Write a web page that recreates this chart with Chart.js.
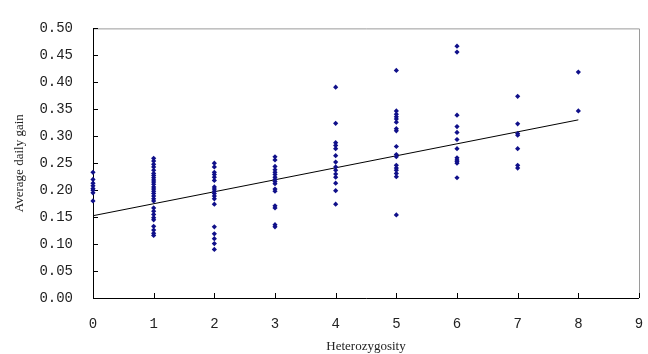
<!DOCTYPE html>
<html lang="en">
  <head>
    <meta charset="UTF-8" />
    <title>Average daily gain vs Heterozygosity</title>
    <script src="https://cdn.jsdelivr.net/npm/chart.js@4.4.0/dist/chart.umd.min.js"></script>
    <style>
      html, body { margin: 0; padding: 0; background: #fff; }
      #wrap { width: 648px; height: 354px; }
    </style>
  </head>
  <body>
    <div id="wrap"><canvas id="myChart" width="648" height="354"></canvas></div>
    <script>
      // average daily gain, one array per heterozygosity level
      const gainAt0 = [0.233, 0.220, 0.213, 0.208, 0.203, 0.200, 0.195, 0.180];
      const gainAt1 = [0.259, 0.254, 0.248, 0.243, 0.237, 0.231, 0.227, 0.223, 0.219, 0.215,
        0.211, 0.206, 0.202, 0.198, 0.194, 0.189, 0.184, 0.180, 0.167, 0.161, 0.155, 0.149,
        0.145, 0.133, 0.126, 0.120, 0.116];
      const gainAt2 = [0.250, 0.243, 0.233, 0.229, 0.224, 0.218, 0.206, 0.202, 0.198, 0.194,
        0.189, 0.184, 0.174, 0.132, 0.119, 0.110, 0.101, 0.090];
      const gainAt3 = [0.262, 0.256, 0.244, 0.238, 0.233, 0.229, 0.224, 0.220, 0.216, 0.212,
        0.202, 0.198, 0.171, 0.167, 0.136, 0.132];
      const gainAt4 = [0.391, 0.324, 0.288, 0.283, 0.277, 0.264, 0.252, 0.243, 0.237, 0.230,
        0.224, 0.213, 0.199, 0.174];
      const gainAt5 = [0.422, 0.347, 0.341, 0.336, 0.332, 0.326, 0.314, 0.310, 0.281, 0.266,
        0.262, 0.246, 0.241, 0.237, 0.231, 0.225, 0.154];
      const gainAt6 = [0.467, 0.456, 0.339, 0.318, 0.307, 0.294, 0.277, 0.260, 0.256, 0.253,
        0.250, 0.223];
      const gainAt7 = [0.374, 0.323, 0.305, 0.302, 0.277, 0.246, 0.241];
      const gainAt8 = [0.419, 0.347];
      const allGains = [gainAt0, gainAt1, gainAt2, gainAt3, gainAt4, gainAt5, gainAt6, gainAt7, gainAt8];

      // fitted trend line end points
      const fitX = [0, 8];
      const fitY = [0.1526, 0.3304];

      const xTicks = [0, 1, 2, 3, 4, 5, 6, 7, 8, 9];
      const yTicks = [0, 0.05, 0.1, 0.15, 0.2, 0.25, 0.3, 0.35, 0.4, 0.45, 0.5];

      let points = [];
      allGains.forEach((list, het) => {
        list.forEach((g) => points.push({ x: het, y: g }));
      });

      let line = fitX.map((x, i) => ({ x: x, y: fitY[i] }));

      // frame of the plot area and the inward tick marks, like the original
      const framePlugin = {
        id: "frame",
        beforeDatasetsDraw(chart) {
          const { ctx, chartArea: a, scales } = chart;
          ctx.save();
          ctx.lineWidth = 1;
          ctx.strokeStyle = "#9a9a9a";
          ctx.beginPath();
          ctx.moveTo(a.left, a.top + 0.5);
          ctx.lineTo(a.right + 0.5, a.top + 0.5);
          ctx.lineTo(a.right + 0.5, a.bottom);
          ctx.stroke();

          ctx.strokeStyle = "#000";
          ctx.beginPath();
          ctx.moveTo(a.left + 0.5, a.top);
          ctx.lineTo(a.left + 0.5, a.bottom + 0.5);
          ctx.lineTo(a.right, a.bottom + 0.5);
          ctx.stroke();

          ctx.beginPath();
          xTicks.forEach((t) => {
            let px = Math.round(scales.x.getPixelForValue(t)) + 0.5;
            ctx.moveTo(px, a.bottom);
            ctx.lineTo(px, a.bottom - 5);
          });
          yTicks.forEach((t) => {
            let py = Math.round(scales.y.getPixelForValue(t)) + 0.5;
            ctx.moveTo(a.left, py);
            ctx.lineTo(a.left + 5, py);
          });
          ctx.stroke();
          ctx.restore();
        },
      };

      const tickFont = { family: "Liberation Mono", size: 14 };
      const titleFont = { family: "Liberation Serif", size: 13 };

      var chart = new Chart("myChart", {
        type: "scatter",
        data: {
          datasets: [
            {
              label: "gain",
              data: points,
              clip: false,
              pointStyle: "rectRot",
              pointRadius: 2.6,
              backgroundColor: "#10108a",
              borderColor: "#10108a",
              borderWidth: 0,
            },
            {
              label: "fit",
              type: "line",
              data: line,
              showLine: true,
              pointRadius: 0,
              borderColor: "#000",
              borderWidth: 1,
              fill: false,
            },
          ],
        },
        options: {
          responsive: false,
          animation: false,
          layout: { padding: { top: 12, right: 9, left: 0, bottom: 0 } },
          plugins: {
            legend: { display: false },
            tooltip: { enabled: false },
          },
          scales: {
            x: {
              type: "linear",
              min: 0,
              max: 9,
              afterBuildTicks: (s) => { s.ticks = xTicks.map((v) => ({ value: v })); },
              afterFit: (s) => {
                s.height = 56;
                s.paddingLeft = 0;
                s.paddingRight = 0;
              },
              grid: { display: false, drawTicks: false },
              border: { display: false },
              ticks: { font: tickFont, color: "#222", padding: 18, maxRotation: 0 },
              title: {
                display: true,
                text: "Heterozygosity",
                font: titleFont,
                color: "#222",
                padding: { top: 4, bottom: 0 },
              },
            },
            y: {
              type: "linear",
              min: 0,
              max: 0.5,
              afterBuildTicks: (s) => { s.ticks = yTicks.map((v) => ({ value: v })); },
              afterFit: (s) => { s.width = 93; },
              grid: { display: false, drawTicks: false },
              border: { display: false },
              ticks: {
                font: tickFont,
                color: "#222",
                padding: 20,
                callback: (v) => Number(v).toFixed(2),
              },
              title: {
                display: true,
                text: "Average daily gain",
                font: titleFont,
                color: "#222",
                padding: { top: 12, bottom: 0 },
              },
            },
          },
        },
        plugins: [framePlugin],
      });
    </script>
  </body>
</html>
